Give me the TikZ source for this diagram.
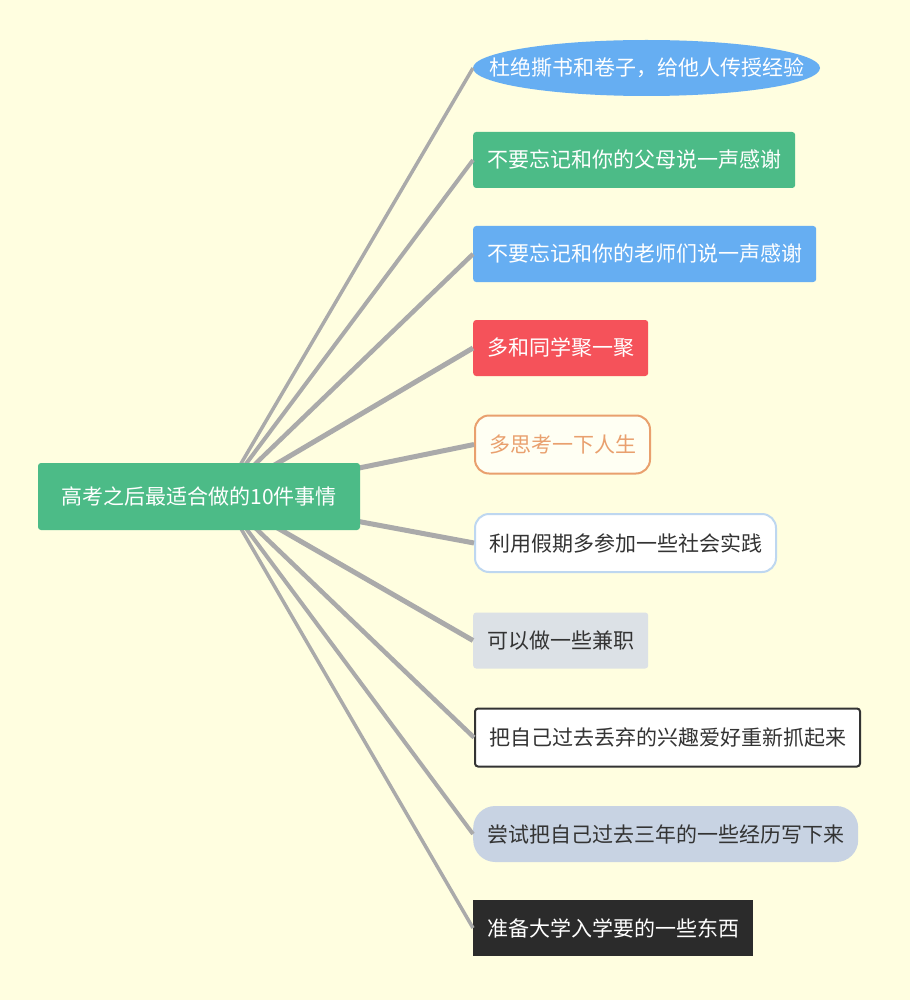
\documentclass[tikz,border=0pt]{standalone}
\usepackage{fontspec}
\setmainfont{Noto Sans CJK SC}
\definecolor{bg}{RGB}{255,254,224}
\definecolor{gr}{RGB}{76,187,135}
\definecolor{bl}{RGB}{102,174,242}
\definecolor{rd}{RGB}{245,82,90}
\definecolor{org}{RGB}{233,160,110}
\definecolor{lb}{RGB}{190,215,240}
\definecolor{gy}{RGB}{220,225,230}
\definecolor{sl}{RGB}{200,211,227}
\definecolor{dk}{RGB}{43,43,43}
\definecolor{tx}{RGB}{51,51,51}
\definecolor{ln}{RGB}{170,170,170}
\tikzset{
 x=1pt,y=-1pt,
 leaf/.style={anchor=west,minimum height=56pt,inner xsep=14pt,font=\fontsize{21}{24}\selectfont,rounded corners=3pt},
}
\begin{document}
\begin{tikzpicture}
\fill[bg] (0,0) rectangle (910,1000);
\useasboundingbox (0,0) rectangle (910,1000);
\fill[bl] (646.5,68) ellipse (173.5 and 28);
\node[leaf,text=white,minimum width=347pt,inner xsep=0pt] (n1) at (473,68) {杜绝撕书和卷子，给他人传授经验};
\node[leaf,fill=gr,text=white] (n2) at (473,160) {不要忘记和你的父母说一声感谢};
\node[leaf,fill=bl,text=white] (n3) at (473,254) {不要忘记和你的老师们说一声感谢};
\node[leaf,fill=rd,text=white] (n4) at (473,348) {多和同学聚一聚};
\node[leaf,fill=white!60!bg,draw=org,line width=2pt,text=org,rounded corners=14pt,minimum height=58pt] (n5) at (474,444.5) {多思考一下人生};
\node[leaf,fill=white,draw=lb,line width=2pt,text=tx,rounded corners=14pt,minimum height=58pt] (n6) at (474,543) {利用假期多参加一些社会实践};
\node[leaf,fill=gy,text=tx] (n7) at (473,640.5) {可以做一些兼职};
\node[leaf,fill=white,draw=tx,line width=2pt,text=tx,minimum height=58pt] (n8) at (474,737.5) {把自己过去丢弃的兴趣爱好重新抓起来};
\node[leaf,fill=sl,text=tx,rounded corners=22pt] (n9) at (473,834) {尝试把自己过去三年的一些经历写下来};
\node[leaf,fill=dk,text=white,rounded corners=0pt] (n10) at (473,928) {准备大学入学要的一些东西};
\coordinate (o) at (222,496);
\foreach \n/\w in {n1/3.5,n2/4,n3/4.5,n4/5,n5/5,n6/5,n7/5,n8/4.5,n9/4,n10/3.5}{
  \draw[draw=ln,line width=\w pt] (o) -- (\n.west);
}
\node[fill=gr,text=white,font=\fontsize{21}{24}\selectfont,minimum width=322pt,minimum height=67pt,rounded corners=3pt] (root) at (199,496.5) {高考之后最适合做的10件事情};
\end{tikzpicture}
\end{document}
